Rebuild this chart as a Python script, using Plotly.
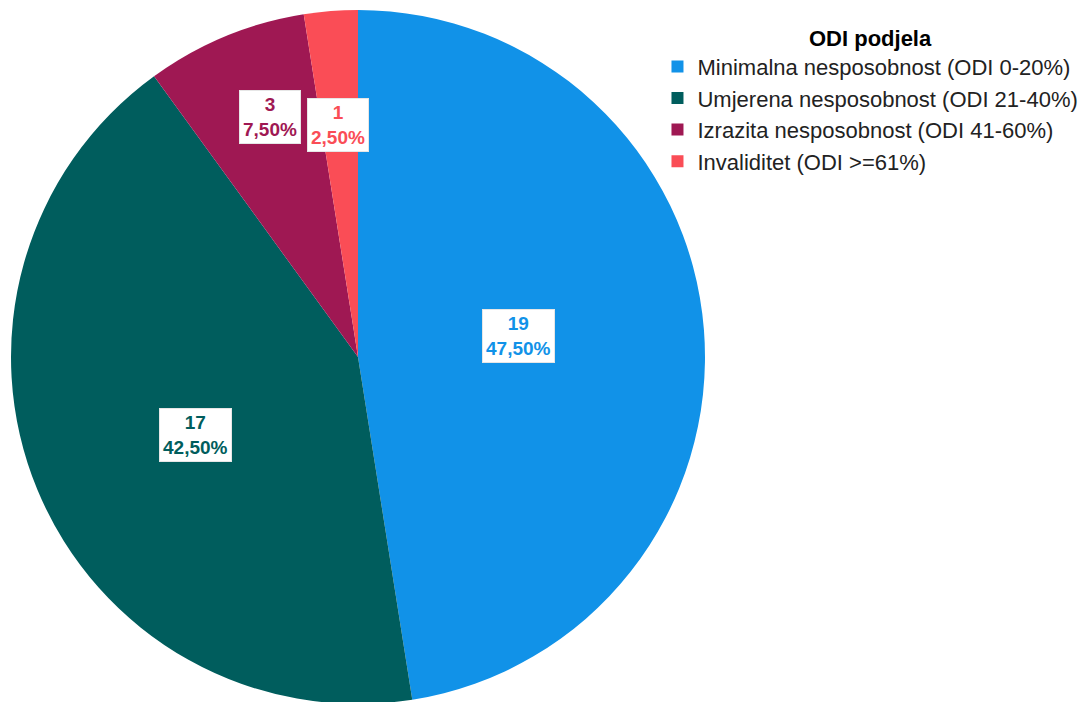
import math
import plotly.graph_objects as go

categories = [
    "Minimalna nesposobnost (ODI 0-20%)",
    "Umjerena nesposobnost (ODI 21-40%)",
    "Izrazita nesposobnost (ODI 41-60%)",
    "Invaliditet (ODI >=61%)",
]
counts = [19, 17, 3, 1]
percent_labels = ["47,50%", "42,50%", "7,50%", "2,50%"]
colors = ["#1192E8", "#005D5D", "#9F1853", "#FA4D56"]
legend_title = "ODI podjela"

# style: placement of label boxes (fraction of radius, angular nudge in degrees)
label_radius = [0.468, 0.52, 0.737, 0.671]
label_nudge = [-3.1, -3.1, 2.4, -0.5]

W, H = 1087, 702
OFF = 8  # page body margin offset
cx_px, cy_px, R = 358 - OFF, 357 - OFF, 347
dom_x = [(cx_px - R) / W, (cx_px + R) / W]
dom_y = [(H - cy_px - R) / H, (H - cy_px + R) / H]

fig = go.Figure(go.Pie(
    labels=categories,
    values=counts,
    marker=dict(colors=colors, line=dict(width=0)),
    sort=False,
    direction="clockwise",
    rotation=0,
    textinfo="none",
    hoverinfo="label+value+percent",
    domain=dict(x=dom_x, y=dom_y),
))

total = sum(counts)
cum = 0
annotations = []
for n, pct, col, rf, nd in zip(counts, percent_labels, colors, label_radius, label_nudge):
    frac = n / total
    mid = (cum + frac / 2) * 2 * math.pi + math.radians(nd)
    cum += frac
    px = cx_px + math.sin(mid) * R * rf
    py = cy_px - math.cos(mid) * R * rf
    annotations.append(dict(
        x=px / W, y=1 - py / H, xref="paper", yref="paper",
        xanchor="center", yanchor="middle",
        text=f"<b>{n}<br>{pct}</b>", showarrow=False,
        font=dict(family="Liberation Sans, Arial", size=19, color=col),
        bgcolor="white", bordercolor="#e6e6e6", borderwidth=1, borderpad=3,
        align="center",
    ))

fig.update_layout(
    width=W, height=H,
    margin=dict(l=0, r=0, t=0, b=0),
    paper_bgcolor="white",
    annotations=annotations,
    showlegend=True,
    legend=dict(
        title=dict(text=f"<b>{legend_title}</b>", side="top center",
                   font=dict(family="Liberation Sans, Arial", size=22, color="black")),
        font=dict(family="Liberation Sans, Arial", size=22, color="#222"),
        x=0.5975, y=1 - 9 / H, xanchor="left", yanchor="top",
        bgcolor="rgba(0,0,0,0)",
    ),
)

fig.write_html("out.html")
